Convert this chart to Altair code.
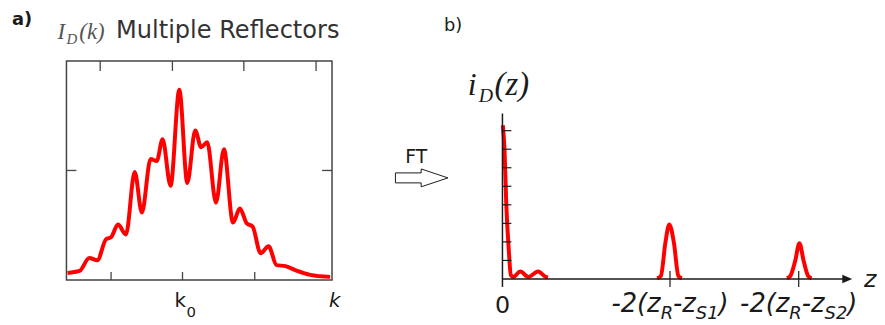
import altair as alt
import pandas as pd

# ---------------- panel a) : I_D(k), multiple reflectors ----------------
k_pos = [0.4, 4.9, 8.6, 11.6, 14.9, 16.8, 19.4, 22.4, 25.7, 28.4, 31.7, 34.0, 36.2, 39.2,
         42.5, 45.5, 48.5, 50.7, 53.0, 56.3, 59.3, 62.7, 65.3, 67.9, 70.1, 73.1, 76.1,
         79.1, 82.5, 86.9, 91.8, 99.3]
i_d_k = [3.2, 4.1, 10.0, 9.0, 18.6, 19.5, 25.3, 20.8, 49.3, 30.8, 55.2, 54.3, 64.3, 43.0,
         86.9, 44.3, 68.3, 60.6, 62.9, 35.3, 59.7, 26.2, 32.6, 25.8, 24.4, 12.2, 15.4,
         6.8, 6.3, 4.1, 2.3, 1.4]
k_ticks_bottom = [16.8, 43.7, 70.9]
k_ticks_top = [12.7, 39.9, 66.8, 94.0]
i_ticks = [50]
k0_pos = 43.7

# ---------------- panel b) : i_D(z) ----------------
z_dc = [0.01, 0.06, 0.11, 0.18, 0.24, 0.31, 0.51, 0.74, 1.02, 1.22, 1.30]
i_dc = [8.29, 6.95, 4.01, 1.60, 0.21, 0.11, 0.40, 0.11, 0.40, 0.13, 0.08]
z_p1 = [4.42, 4.53, 4.66, 4.77, 4.90, 5.03, 5.13]
i_p1 = [0.03, 0.16, 1.98, 2.94, 1.98, 0.16, 0.03]
z_p2 = [8.13, 8.23, 8.37, 8.49, 8.61, 8.74, 8.84]
i_p2 = [0.03, 0.16, 0.98, 1.93, 0.98, 0.16, 0.03]
z_ticks = [4.79, 8.47]
z_tick_sub2 = ["S1", "S2"]
i_ticks_b = [1, 2, 3, 4, 5, 6, 7, 8]

RED = "#ff0000"
INK = "#1a1a1a"
SANS = "DejaVu Sans"
SERIF = "Liberation Serif"

W, H = 877, 317
LX = alt.Scale(domain=[0, 100], range=[59, 327], nice=False, zero=False)
LY = alt.Scale(domain=[0, 100], range=[273, 52], nice=False, zero=False)
RX = alt.Scale(domain=[0, 10], range=[499, 852], nice=False, zero=False)
RY = alt.Scale(domain=[0, 11.76], range=[272, 52], nice=False, zero=False)

one = pd.DataFrame({"o": [0]})


def txt(text, x, y, size, font=SANS, style="normal", color=INK, align="left", weight="normal"):
    return alt.Chart(one).mark_text(
        text=text, align=align, baseline="alphabetic", fontSize=size,
        font=font, fontStyle=style, color=color, fontWeight=weight
    ).encode(x=alt.value(x), y=alt.value(y))


layers = []

# ---- panel a ----
frame = pd.DataFrame({"x0": [0], "x1": [100], "y0": [0], "y1": [100]})
layers.append(alt.Chart(frame).mark_rect(fillOpacity=0, stroke="#444", strokeWidth=1.5).encode(
    x=alt.X("x0:Q", scale=LX, axis=None), x2="x1:Q",
    y=alt.Y("y0:Q", scale=LY, axis=None), y2="y1:Q"))
tb = pd.DataFrame({"k": k_ticks_bottom})
layers.append(alt.Chart(tb).mark_rule(color="#444", strokeWidth=1.3).encode(
    x=alt.X("k:Q", scale=LX, axis=None), y=alt.value(273), y2=alt.value(265)))
tt = pd.DataFrame({"k": k_ticks_top})
layers.append(alt.Chart(tt).mark_rule(color="#444", strokeWidth=1.3).encode(
    x=alt.X("k:Q", scale=LX, axis=None), y=alt.value(52), y2=alt.value(62)))
ti = pd.DataFrame({"v": i_ticks})
layers.append(alt.Chart(ti).mark_rule(color="#444", strokeWidth=1.3).encode(
    y=alt.Y("v:Q", scale=LY, axis=None), x=alt.value(59), x2=alt.value(69)))
layers.append(alt.Chart(ti).mark_rule(color="#444", strokeWidth=1.3).encode(
    y=alt.Y("v:Q", scale=LY, axis=None), x=alt.value(327), x2=alt.value(317)))
curve_a = pd.DataFrame({"k": k_pos, "i": i_d_k})
layers.append(alt.Chart(curve_a).mark_line(color=RED, strokeWidth=4, interpolate="monotone",
                                           strokeJoin="round").encode(
    x=alt.X("k:Q", scale=LX, axis=None), y=alt.Y("i:Q", scale=LY, axis=None)))
k0 = pd.DataFrame({"k": [k0_pos]})
layers.append(alt.Chart(k0).mark_text(text="k", align="left", baseline="alphabetic", fontSize=20,
                                      font=SANS, color=INK, dx=-8).encode(
    x=alt.X("k:Q", scale=LX, axis=None), y=alt.value(300)))
layers.append(alt.Chart(k0).mark_text(text="0", align="left", baseline="alphabetic", fontSize=15,
                                      font=SANS, color=INK, dx=4).encode(
    x=alt.X("k:Q", scale=LX, axis=None), y=alt.value(310)))
layers.append(txt("k", 324, 300, 20, style="italic"))
layers.append(txt("a)", 4, 16, 18, weight="bold"))
layers.append(txt("I", 50, 30, 23, font=SERIF, style="italic", color="#555"))
layers.append(txt("D", 59, 35, 15, font=SERIF, style="italic", color="#555"))
layers.append(txt("(k)", 72, 30, 23, font=SERIF, style="italic", color="#555"))
layers.append(txt("Multiple Reflectors", 109, 29, 24.3, color="#333"))

# ---- FT arrow ----
arrow_path = "M-1,-0.19L-0.02,-0.19L-0.02,-0.34L1,0L-0.02,0.34L-0.02,0.19L-1,0.19Z"
layers.append(alt.Chart(one).mark_point(shape=arrow_path, size=2809, filled=True, fill="white",
                                        stroke=INK, strokeWidth=1, opacity=1).encode(
    x=alt.value(417.5), y=alt.value(170)))
layers.append(txt("FT", 401, 155, 19))

# ---- panel b ----
layers.append(txt("b)", 440, 22, 18))
layers.append(txt("i", 464, 86, 32, font=SERIF, style="italic"))
layers.append(txt("D", 475, 93, 20, font=SERIF, style="italic"))
layers.append(txt("(z)", 491, 86, 33, font=SERIF, style="italic"))

# curve b
rows = []
for seg, (zs, ys) in enumerate([(z_dc, i_dc), (z_p1, i_p1), (z_p2, i_p2)]):
    for z, v in zip(zs, ys):
        rows.append({"z": z, "i": v, "seg": seg})
curve_b = pd.DataFrame(rows)
layers.append(alt.Chart(curve_b).mark_line(color=RED, strokeWidth=4, interpolate="monotone",
                                           strokeJoin="round").encode(
    x=alt.X("z:Q", scale=RX, axis=None), y=alt.Y("i:Q", scale=RY, axis=None),
    detail="seg:N"))

# axes (drawn over the curve)
layers.append(alt.Chart(one).mark_rule(color=INK, strokeWidth=1.5).encode(
    x=alt.value(499), y=alt.value(105), y2=alt.value(280)))
layers.append(alt.Chart(one).mark_rule(color=INK, strokeWidth=1.5).encode(
    x=alt.value(499), x2=alt.value(843), y=alt.value(272)))
layers.append(alt.Chart(one).mark_point(shape="M-1,-0.85L1,0L-1,0.85Z", size=100, filled=True,
                                        color=INK, opacity=1).encode(
    x=alt.value(847), y=alt.value(272)))
tyb = pd.DataFrame({"v": i_ticks_b})
layers.append(alt.Chart(tyb).mark_rule(color=INK, strokeWidth=1.2).encode(
    y=alt.Y("v:Q", scale=RY, axis=None), x=alt.value(499), x2=alt.value(508)))
tz = pd.DataFrame({"z": z_ticks, "s": z_tick_sub2})
layers.append(alt.Chart(tz).mark_rule(color=INK, strokeWidth=1.2).encode(
    x=alt.X("z:Q", scale=RX, axis=None), y=alt.value(264), y2=alt.value(280)))

# tick labels of panel b
zero = pd.DataFrame({"z": [0]})
layers.append(alt.Chart(zero).mark_text(text="0", align="center", baseline="alphabetic",
                                        fontSize=24, font=SANS, color=INK).encode(
    x=alt.X("z:Q", scale=RX, axis=None), y=alt.value(306)))

DJ = {"-": 0.361, "2": 0.636, "(": 0.390, ")": 0.390, "z": 0.525, "R": 0.695,
      "S": 0.635, "1": 0.636}


def wid(s, size):
    return sum(DJ[c] for c in s) * size


MAIN, SUB = 26, 18
pieces = [("-2(z", MAIN, 305), ("R", SUB, 312), ("-z", MAIN, 305), (None, SUB, 312), (")", MAIN, 305)]
total = sum(wid(p if p else "S1", s) for p, s, _ in pieces)
off = -total / 2
for p, s, yb in pieces:
    if p is None:
        d = tz.assign(t=tz["s"])
        w = wid("S1", s)
    else:
        d = tz.assign(t=p)
        w = wid(p, s)
    layers.append(alt.Chart(d).mark_text(align="left", baseline="alphabetic", fontSize=s,
                                         font=SANS, fontStyle="italic", color=INK, dx=off).encode(
        x=alt.X("z:Q", scale=RX, axis=None), y=alt.value(yb), text="t:N"))
    off += w

layers.append(txt("z", 864, 280, 24, style="italic"))

chart = alt.layer(*layers).resolve_scale(x="independent", y="independent").properties(
    width=W, height=H, padding=0, autosize=alt.AutoSizeParams(type="none"),
    background="white"
).configure_view(stroke=None)

chart.save("out.html", embed_options={"renderer": "svg", "actions": False})
